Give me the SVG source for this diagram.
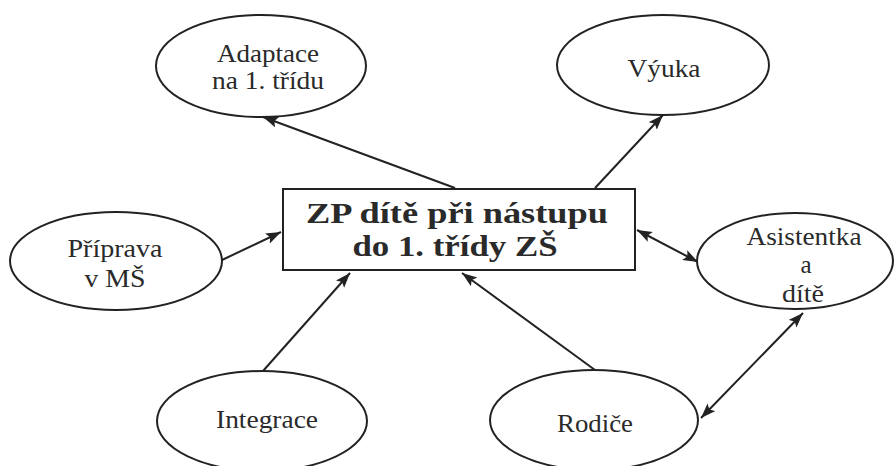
<svg xmlns="http://www.w3.org/2000/svg" width="896" height="466" viewBox="0 0 896 466">
<style>
.n{fill:#fff;stroke:#222;stroke-width:2}
.t{font-family:"Liberation Serif","Times New Roman",serif;font-size:25px;fill:#2a2a2a;text-anchor:middle}
.b{font-family:"Liberation Serif","Times New Roman",serif;font-size:29px;font-weight:bold;fill:#2a2a2a;text-anchor:middle}
.c{stroke:#222;stroke-width:2;fill:none}
</style>
<defs>
<marker id="ah" markerUnits="userSpaceOnUse" markerWidth="16" markerHeight="12" refX="15" refY="5.5" orient="auto-start-reverse" viewBox="0 0 16 12">
<path d="M0,0 L15,5.5 L0,11 L3,5.5 z" fill="#222"/>
</marker>
</defs>
<rect width="896" height="466" fill="#fff"/>
<g id="connectors">
<line class="c" x1="455" y1="188" x2="263" y2="117" marker-end="url(#ah)"/>
<line class="c" x1="595" y1="188" x2="663" y2="115" marker-end="url(#ah)"/>
<line class="c" x1="222" y1="260" x2="281" y2="232" marker-end="url(#ah)"/>
<line class="c" x1="263" y1="371" x2="350" y2="273" marker-end="url(#ah)"/>
<line class="c" x1="595" y1="370" x2="462" y2="273" marker-end="url(#ah)"/>
<line class="c" x1="637" y1="230" x2="698" y2="262" marker-start="url(#ah)" marker-end="url(#ah)"/>
<line class="c" x1="701" y1="418" x2="803" y2="313" marker-start="url(#ah)" marker-end="url(#ah)"/>
</g>
<g id="center">
<rect class="n" x="283" y="189" width="352" height="81"/>
<text class="b" x="457" y="223" textLength="302" lengthAdjust="spacingAndGlyphs">ZP dítě při nástupu</text>
<text class="b" x="455" y="256" textLength="205" lengthAdjust="spacingAndGlyphs">do 1. třídy ZŠ</text>
</g>
<g id="adaptace">
<ellipse class="n" cx="261" cy="66" rx="105" ry="51"/>
<text class="t" x="268" y="62" textLength="102" lengthAdjust="spacingAndGlyphs">Adaptace</text>
<text class="t" x="268" y="89" textLength="112" lengthAdjust="spacingAndGlyphs">na 1. třídu</text>
</g>
<g id="vyuka">
<ellipse class="n" cx="663" cy="65" rx="106" ry="50"/>
<text class="t" x="664" y="77" textLength="73" lengthAdjust="spacingAndGlyphs">Výuka</text>
</g>
<g id="priprava">
<ellipse class="n" cx="116" cy="261" rx="106" ry="49"/>
<text class="t" x="115" y="257" textLength="95" lengthAdjust="spacingAndGlyphs">Příprava</text>
<text class="t" x="115" y="287" textLength="61" lengthAdjust="spacingAndGlyphs">v MŠ</text>
</g>
<g id="asistentka">
<ellipse class="n" cx="795" cy="261" rx="98" ry="48"/>
<text class="t" x="804" y="245" textLength="115" lengthAdjust="spacingAndGlyphs">Asistentka</text>
<text class="t" x="806" y="273">a</text>
<text class="t" x="803" y="302" textLength="42" lengthAdjust="spacingAndGlyphs">dítě</text>
</g>
<g id="integrace">
<ellipse class="n" cx="262" cy="421" rx="105" ry="50"/>
<text class="t" x="267" y="428" textLength="102" lengthAdjust="spacingAndGlyphs">Integrace</text>
</g>
<g id="rodice">
<ellipse class="n" cx="594" cy="420" rx="104" ry="50"/>
<text class="t" x="595" y="432" textLength="76" lengthAdjust="spacingAndGlyphs">Rodiče</text>
</g>
</svg>
